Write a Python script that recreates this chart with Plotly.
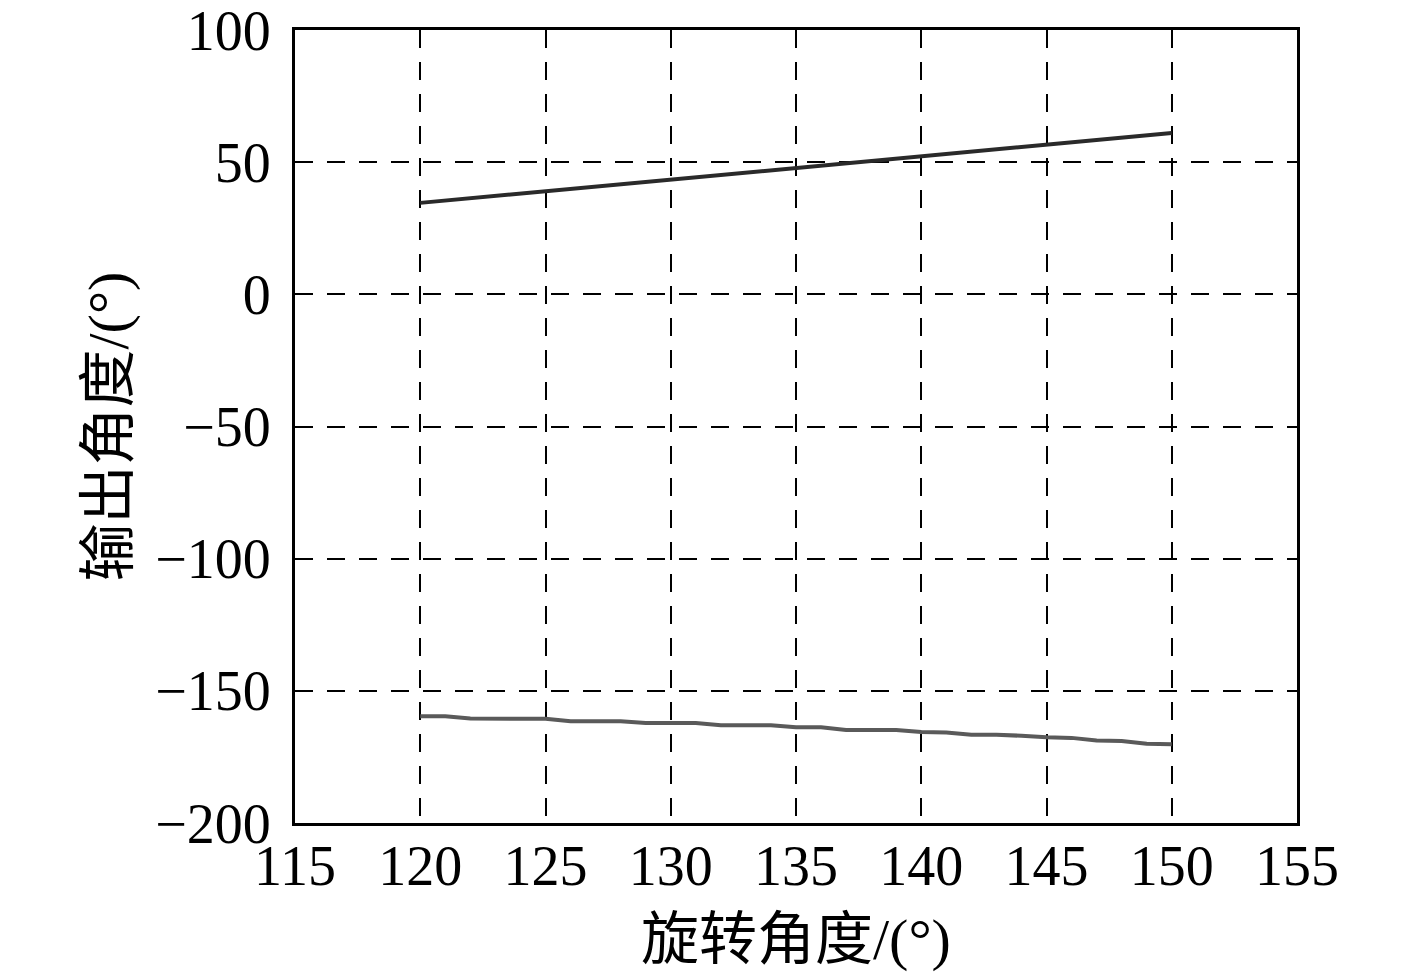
import plotly.graph_objects as go

# rotation angle (deg) and the two output angle branches
x_upper = [120, 125, 130, 135, 140, 145, 150]
y_upper = [34.6, 39.0, 43.4, 47.8, 52.2, 56.6, 61.0]

x_lower = list(range(120, 151))
y_lower = [-159.6, -159.6, -160.5, -160.5, -160.5, -160.6, -161.5, -161.5,
           -161.5, -162.2, -162.2, -162.2, -163.0, -163.0, -163.0, -163.8,
           -163.8, -164.8, -164.8, -164.8, -165.6, -165.8, -166.6, -166.6,
           -167.0, -167.6, -167.8, -168.8, -169.0, -170.0, -170.2]

x_ticks = [115, 120, 125, 130, 135, 140, 145, 150, 155]
y_ticks = [-200, -150, -100, -50, 0, 50, 100]

x_title = "旋转角度/(°)"
y_title = "输出角度/(°)"

font = "Liberation Serif, Times New Roman, Noto Sans CJK SC, serif"

fig = go.Figure()
fig.add_trace(go.Scatter(x=x_upper, y=y_upper, mode="lines",
                         line=dict(color="#2a2a2a", width=4), showlegend=False))
fig.add_trace(go.Scatter(x=x_lower, y=y_lower, mode="lines",
                         line=dict(color="#5a5a5a", width=4), showlegend=False))

axis_common = dict(
    showline=True, mirror=True, linecolor="black", linewidth=3,
    showgrid=True, gridcolor="black", gridwidth=2, griddash="18px,14px",
    zeroline=False, ticks="", automargin=False, ticklabeloverflow="allow",
    tickfont=dict(family=font, size=56, color="black"),
)

fig.update_xaxes(range=[115, 155], tickvals=x_ticks, ticklabelstandoff=-8,
                 **axis_common)
fig.update_yaxes(range=[-200, 100], tickvals=y_ticks, ticklabelstandoff=10,
                 **axis_common)

# axis titles as annotations for exact placement
fig.add_annotation(text=x_title, xref="paper", yref="paper", x=0.5, y=0,
                   yanchor="middle", yshift=-116, showarrow=False,
                   font=dict(family=font, size=58, color="black"))
fig.add_annotation(text=y_title, xref="paper", yref="paper", x=0, y=0.5,
                   xanchor="center", xshift=-187, textangle=-90, showarrow=False,
                   font=dict(family=font, size=58, color="black"))

# page body adds an 8px margin, so the figure is sized to fit the window
fig.update_layout(
    width=1409, height=970,
    margin=dict(l=287, r=120, t=22, b=155),
    plot_bgcolor="white", paper_bgcolor="white",
)

fig.write_html("out.html")
